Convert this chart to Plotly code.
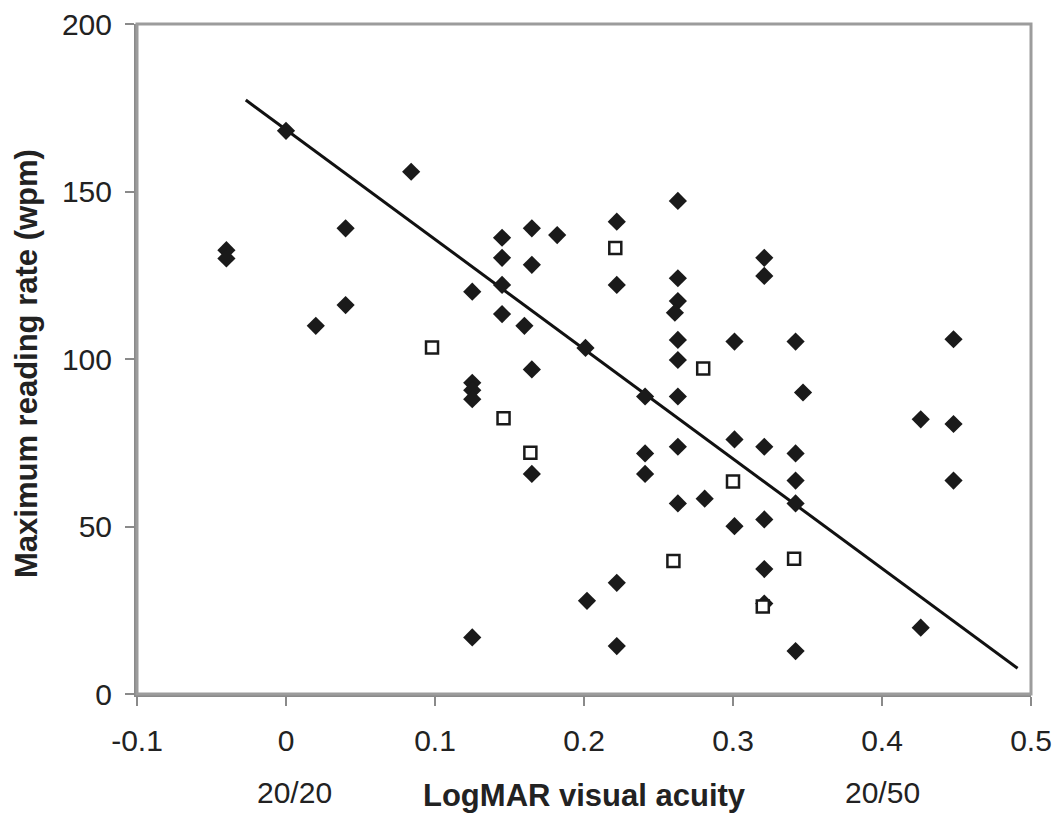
import plotly.graph_objects as go

# Filled diamonds (LogMAR, max reading rate wpm)
diamond_x = [-0.04, -0.04, 0.0, 0.02, 0.04, 0.04, 0.084, 0.125, 0.125, 0.125, 0.125, 0.125,
             0.145, 0.145, 0.145, 0.145, 0.16, 0.165, 0.165, 0.165, 0.165, 0.182,
             0.201, 0.202, 0.222, 0.222, 0.222, 0.222, 0.241, 0.241, 0.241,
             0.263, 0.263, 0.263, 0.261, 0.263, 0.263, 0.263, 0.263, 0.263, 0.281,
             0.301, 0.301, 0.301, 0.321, 0.321, 0.321, 0.321, 0.321, 0.321,
             0.342, 0.342, 0.342, 0.342, 0.342, 0.347, 0.426, 0.426, 0.448, 0.448, 0.448]
diamond_y = [132.5, 130.0, 168.1, 109.9, 139.0, 116.1, 155.9, 120.1, 92.9, 90.7, 88.0, 16.9,
             136.2, 130.2, 122.1, 113.4, 109.9, 139.0, 128.1, 96.9, 65.7, 137.0,
             103.3, 27.8, 141.0, 122.1, 33.2, 14.3, 88.8, 71.8, 65.7,
             147.2, 124.1, 117.3, 113.8, 105.7, 99.7, 88.8, 73.8, 56.9, 58.3,
             105.2, 76.0, 50.1, 130.2, 124.8, 73.8, 52.1, 37.3, 27.0,
             105.2, 71.8, 63.7, 56.9, 12.8, 90.0, 82.0, 19.8, 105.9, 80.6, 63.7]

# Open squares
square_x = [0.098, 0.146, 0.164, 0.221, 0.260, 0.280, 0.300, 0.320, 0.341]
square_y = [103.4, 82.3, 72.0, 133.1, 39.7, 97.2, 63.4, 26.1, 40.4]

# Regression line end points
line_x = [-0.027, 0.491]
line_y = [177.3, 7.7]

x_ticks = [-0.1, 0, 0.1, 0.2, 0.3, 0.4, 0.5]
x_tick_labels = ["-0.1", "0", "0.1", "0.2", "0.3", "0.4", "0.5"]
y_ticks = [0, 50, 100, 150, 200]
snellen_labels = ["20/20", "20/50"]
snellen_pos = [0.006, 0.4]

FONT = "Liberation Sans, Arial, sans-serif"
TXT = "#222222"
AX = "#8a8a8a"

fig = go.Figure()
fig.add_trace(go.Scatter(x=line_x, y=line_y, mode="lines",
                         line=dict(color="#111111", width=3), showlegend=False))
fig.add_trace(go.Scatter(x=diamond_x, y=diamond_y, mode="markers",
                         marker=dict(symbol="diamond", size=14, color="#1a1a1a",
                                     line=dict(width=0)), showlegend=False))
fig.add_trace(go.Scatter(x=square_x, y=square_y, mode="markers",
                         marker=dict(symbol="square", size=12, color="white",
                                     line=dict(color="#1a1a1a", width=2.5)), showlegend=False))

# page body has an 8px default margin, so the figure is 8px smaller and margins shifted
fig.update_layout(
    template="none",
    width=1056, height=807,
    margin=dict(l=129, r=33, t=16, b=121, autoexpand=False),
    paper_bgcolor="white", plot_bgcolor="white",
    font=dict(family=FONT, color=TXT, size=30),
    xaxis=dict(range=[-0.1, 0.5], tickvals=x_ticks, ticktext=x_tick_labels, automargin=False,
               showgrid=False, zeroline=False, showline=True, linecolor=AX, linewidth=3,
               ticks="outside", ticklen=9, tickwidth=1.5, tickcolor=AX,
               ticklabeloverflow="allow",
               tickfont=dict(size=30, family=FONT, color=TXT), ticklabelstandoff=9),
    yaxis=dict(range=[0, 200], tickvals=y_ticks, automargin=False,
               showgrid=False, zeroline=False, showline=True, linecolor=AX, linewidth=3,
               ticks="outside", ticklen=9, tickwidth=1.5, tickcolor=AX,
               ticklabeloverflow="allow",
               tickfont=dict(size=30, family=FONT, color=TXT), ticklabelstandoff=7),
    shapes=[dict(type="rect", xref="paper", yref="paper", x0=0, y0=0, x1=1, y1=1,
                 line=dict(color="#9c9c9c", width=3), layer="above")],
)

annotations = [
    dict(text="<b>LogMAR visual acuity</b>", xref="paper", yref="paper", x=0.5, y=0,
         xanchor="center", yanchor="middle", yshift=-101, showarrow=False,
         font=dict(size=31, family=FONT, color=TXT)),
    dict(text="<b>Maximum reading rate (wpm)</b>", xref="paper", yref="paper", x=0, y=0.5,
         xanchor="center", yanchor="middle", xshift=-111, yshift=-5, textangle=-90,
         showarrow=False, font=dict(size=31, family=FONT, color=TXT)),
]
for lab, pos in zip(snellen_labels, snellen_pos):
    annotations.append(dict(text=lab, xref="x", yref="paper", x=pos, y=0,
                            xanchor="center", yanchor="middle", yshift=-98,
                            showarrow=False, font=dict(size=30, family=FONT, color=TXT)))
fig.update_layout(annotations=annotations)

fig.write_html("out.html")
